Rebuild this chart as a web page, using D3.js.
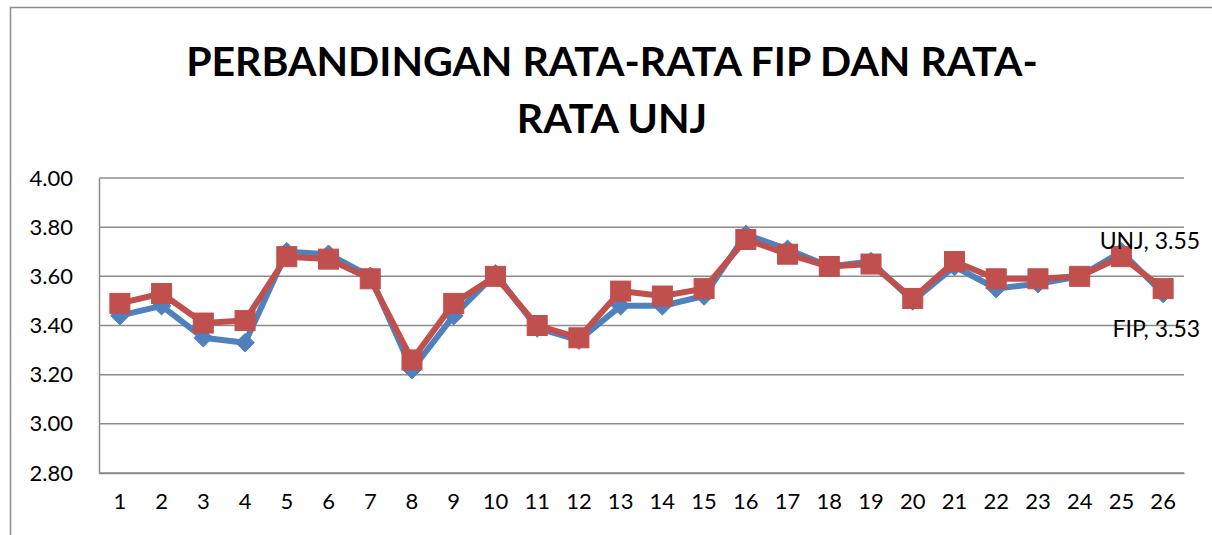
<!DOCTYPE html>
<html>
<head>
<meta charset="utf-8">
<script src="https://cdn.jsdelivr.net/npm/d3@7"></script>
<style>
  body { margin: 0; background: #fff; }
  svg { display: block; font-family: Lato, "Open Sans", sans-serif; }
</style>
</head>
<body>
<svg id="chart"></svg>
<script>
const categories = d3.range(1, 27).map(String);
const fipValues = [3.44, 3.48, 3.35, 3.33, 3.70, 3.69, 3.60, 3.22, 3.44, 3.61,
                   3.39, 3.34, 3.48, 3.48, 3.52, 3.77, 3.71, 3.64, 3.66, 3.50,
                   3.64, 3.55, 3.57, 3.60, 3.70, 3.53];
const unjValues = [3.49, 3.53, 3.41, 3.42, 3.68, 3.67, 3.59, 3.26, 3.49, 3.60,
                   3.40, 3.35, 3.54, 3.52, 3.55, 3.75, 3.69, 3.64, 3.65, 3.51,
                   3.66, 3.59, 3.59, 3.60, 3.68, 3.55];
const yTicks = [2.80, 3.00, 3.20, 3.40, 3.60, 3.80, 4.00];
const titleLines = ["PERBANDINGAN RATA-RATA FIP DAN RATA-", "RATA UNJ"];

const width = 1212, height = 535;
const margin = { top: 178, right: 28, bottom: 62, left: 99 };
const innerW = width - margin.left - margin.right;
const innerH = height - margin.top - margin.bottom;

const svg = d3.select("#chart").attr("width", width).attr("height", height);

// chart area border
svg.append("rect")
    .attr("x", 10.5).attr("y", 7.5)
    .attr("width", width).attr("height", height)
    .attr("fill", "none")
    .attr("stroke", "#8c8c8c")
    .attr("stroke-width", 1.5);

svg.append("text")
    .attr("text-anchor", "middle")
    .attr("font-weight", "bold")
    .style("font-size", "41px")
    .selectAll("tspan")
    .data(titleLines)
    .join("tspan")
    .attr("x", 612)
    .attr("y", (d, i) => 76 + i * 57)
    .text(d => d);

const x = d3.scaleBand().domain(categories).range([0, innerW]);
const y = d3.scaleLinear().domain([2.8, 4.0]).range([innerH, 0]);

const g = svg.append("g").attr("transform", `translate(${margin.left}, ${margin.top})`);

g.append("g")
    .selectAll("line")
    .data(yTicks)
    .join("line")
    .attr("x1", 0).attr("x2", innerW)
    .attr("y1", d => y(d)).attr("y2", d => y(d))
    .attr("stroke", "#8c8c8c")
    .attr("stroke-width", 1.5);

const yAxis = g.append("g")
    .call(d3.axisLeft(y).tickValues(yTicks).tickFormat(d3.format(".2f")).tickSize(0).tickPadding(26));
yAxis.select(".domain").attr("stroke", "#8c8c8c").attr("stroke-width", 1.5);
yAxis.selectAll("text")
    .style("font-size", "22px")
    .attr("font-family", "Lato, sans-serif")
    .attr("fill", "#000");

const xAxis = g.append("g")
    .attr("transform", `translate(0, ${innerH})`)
    .call(d3.axisBottom(x).tickSize(0).tickPadding(20));
xAxis.select(".domain").attr("stroke", "#8c8c8c").attr("stroke-width", 1.5);
xAxis.selectAll("text")
    .style("font-size", "22px")
    .attr("font-family", "Lato, sans-serif")
    .attr("fill", "#000");

const cx = (d, i) => x(categories[i]) + x.bandwidth() / 2;
const line = d3.line().x(cx).y(d => y(d));

const blue = "#4f81bd", red = "#c0504d";

g.append("path")
    .datum(fipValues)
    .attr("d", line)
    .attr("fill", "none")
    .attr("stroke", blue)
    .attr("stroke-width", 6)
    .attr("stroke-linejoin", "round");

g.append("g")
    .selectAll("path")
    .data(fipValues)
    .join("path")
    .attr("d", d3.symbol().type(d3.symbolDiamond2).size(220))
    .attr("transform", (d, i) => `translate(${cx(d, i)}, ${y(d)})`)
    .attr("fill", blue)
    .attr("stroke", blue)
    .attr("stroke-width", 1);

g.append("path")
    .datum(unjValues)
    .attr("d", line)
    .attr("fill", "none")
    .attr("stroke", red)
    .attr("stroke-width", 6)
    .attr("stroke-linejoin", "round");

g.append("g")
    .selectAll("rect")
    .data(unjValues)
    .join("rect")
    .attr("x", (d, i) => cx(d, i) - 10)
    .attr("y", d => y(d) - 10)
    .attr("width", 20)
    .attr("height", 20)
    .attr("fill", red)
    .attr("stroke", red)
    .attr("stroke-width", 1);

// data labels on the last point
const last = categories.length - 1;
g.append("text")
    .attr("text-anchor", "end")
    .attr("x", cx(null, last) + 37)
    .attr("y", y(unjValues[last]) - 40)
    .style("font-size", "23px")
    .text(`UNJ, ${unjValues[last].toFixed(2)}`);

g.append("text")
    .attr("text-anchor", "end")
    .attr("x", cx(null, last) + 37)
    .attr("y", y(fipValues[last]) + 43)
    .style("font-size", "23px")
    .text(`FIP, ${fipValues[last].toFixed(2)}`);
</script>
</body>
</html>
